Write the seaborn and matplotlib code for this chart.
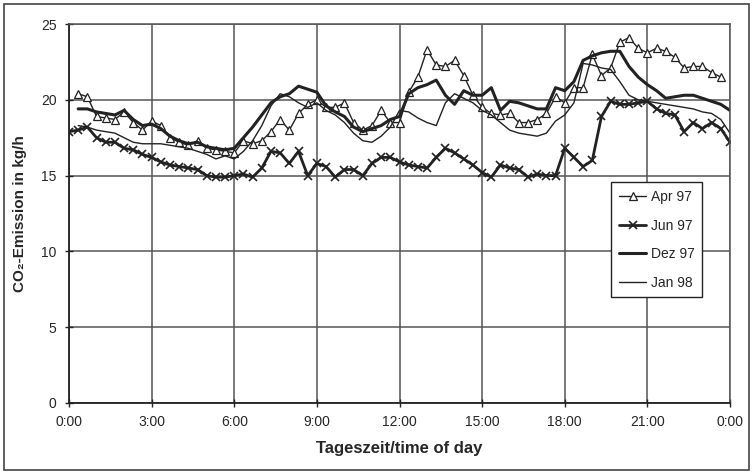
import numpy as np
import pandas as pd
import matplotlib
matplotlib.use("Agg")
import matplotlib.pyplot as plt
import seaborn as sns
from matplotlib.patches import Rectangle

# ---- data (20-minute steps, hours of day) ----
apr_start, jun_start, dez_start, jan_start = 1, 0, 1, 1  # index of first 20-min slot

apr97 = [20.4, 20.2, 18.9, 18.8, 18.7, 19.2, 18.5, 18.0, 18.6, 18.3, 17.5, 17.2,
         17.0, 17.3, 16.8, 16.7, 16.6, 16.5, 17.3, 17.1, 17.3, 17.9, 18.7, 18.0,
         19.1, 19.7, 20.0, 19.5, 19.5, 19.8, 18.5, 18.0, 18.3, 19.3, 18.5, 18.5,
         20.5, 21.5, 23.3, 22.3, 22.2, 22.6, 21.6, 20.3, 19.5, 19.1, 19.0, 19.1,
         18.5, 18.5, 18.7, 19.1, 20.2, 19.8, 20.8, 20.8, 23.0, 21.6, 22.1, 23.8,
         24.1, 23.4, 23.1, 23.4, 23.2, 22.8, 22.1, 22.2, 22.2, 21.8, 21.5]

jun97 = [17.9, 18.0, 18.2, 17.5, 17.2, 17.2, 16.8, 16.7, 16.4, 16.2, 15.9, 15.7,
         15.6, 15.5, 15.4, 15.0, 14.9, 14.9, 15.0, 15.1, 14.9, 15.5, 16.6, 16.5,
         15.8, 16.6, 15.0, 15.8, 15.6, 14.9, 15.4, 15.4, 15.0, 15.8, 16.2, 16.2,
         15.9, 15.7, 15.6, 15.5, 16.2, 16.8, 16.5, 16.1, 15.7, 15.2, 14.9, 15.7,
         15.5, 15.4, 14.9, 15.1, 15.0, 15.0, 16.8, 16.2, 15.6, 16.0, 18.9, 19.9,
         19.7, 19.7, 19.8, 19.9, 19.4, 19.1, 19.0, 17.9, 18.5, 18.1, 18.5, 18.1,
         17.2]

dez97 = [19.4, 19.4, 19.2, 19.1, 19.0, 19.3, 18.7, 18.3, 18.4, 18.1, 17.6, 17.3,
         17.1, 17.2, 16.9, 16.8, 16.7, 16.8, 17.5, 18.2, 19.0, 19.8, 20.2, 20.4,
         20.9, 20.7, 20.5, 19.6, 19.2, 18.9, 18.2, 17.9, 18.1, 18.3, 18.7, 18.9,
         20.4, 20.8, 21.0, 21.3, 20.3, 19.7, 20.6, 20.3, 20.3, 20.8, 19.3, 19.9,
         19.8, 19.6, 19.4, 19.4, 20.8, 20.6, 21.2, 22.6, 22.9, 23.1, 23.2, 23.2,
         22.2, 21.5, 21.0, 20.6, 20.1, 20.2, 20.3, 20.3, 20.1, 19.9, 19.7, 19.3]

jan98 = [18.3, 18.2, 18.0, 17.9, 17.8, 17.5, 17.2, 17.1, 17.1, 17.1, 17.0, 16.9,
         16.8, 16.6, 16.4, 16.1, 16.3, 16.1, 16.6, 17.3, 18.3, 19.6, 20.4, 20.2,
         19.8, 19.5, 19.8, 19.3, 19.0, 18.5, 17.8, 17.3, 17.2, 17.6, 18.2, 19.3,
         19.2, 18.8, 18.5, 18.3, 19.8, 20.4, 20.1, 19.8, 19.3, 19.0, 18.5, 18.0,
         17.8, 17.7, 17.6, 17.8, 18.6, 19.0, 19.8, 22.4, 22.3, 22.1, 22.0, 21.2,
         20.3, 20.0, 19.9, 19.8, 19.7, 19.6, 19.5, 19.4, 19.2, 19.1, 18.7, 17.8]

series_names = ["Apr 97", "Jun 97", "Dez 97", "Jan 98"]
x_ticks = [0, 3, 6, 9, 12, 15, 18, 21, 24]
x_ticklabels = ["0:00", "3:00", "6:00", "9:00", "12:00", "15:00", "18:00", "21:00", "0:00"]
y_ticks = [0, 5, 10, 15, 20, 25]


def frame(name, vals, start):
    hours = (np.arange(len(vals)) + start) / 3.0
    return pd.DataFrame({"hour": hours, "value": vals, "series": name})


df = pd.concat([frame("Apr 97", apr97, apr_start),
                frame("Jun 97", jun97, jun_start),
                frame("Dez 97", dez97, dez_start),
                frame("Jan 98", jan98, jan_start)], ignore_index=True)

sns.set_style("white")
plt.rcParams["font.family"] = ["Liberation Sans", "DejaVu Sans"]

fig = plt.figure(figsize=(7.54, 4.76), dpi=100)
ax = fig.add_axes([69 / 754, 73 / 476, 661 / 754, 379 / 476])

ink = "#222222"
grid_c = "#555555"

styles = {
    "Apr 97": dict(lw=1.0, marker="^", ms=5.5, mfc="white", mec=ink, mew=0.9),
    "Jun 97": dict(lw=2.0, marker="x", ms=6, mec=ink, mew=1.2),
    "Dez 97": dict(lw=2.2, marker=None),
    "Jan 98": dict(lw=1.0, marker=None),
}

for name in series_names:
    sub = df[df["series"] == name]
    st = styles[name]
    sns.lineplot(data=sub, x="hour", y="value", ax=ax, color=ink, label=name,
                 linewidth=st["lw"], marker=st["marker"],
                 markersize=st.get("ms", 0), markerfacecolor=st.get("mfc", ink),
                 markeredgecolor=st.get("mec", ink),
                 markeredgewidth=st.get("mew", 0), estimator=None, sort=False)

ax.set_xlim(0, 24)
ax.set_ylim(0, 25)
ax.set_xticks(x_ticks)
ax.set_xticklabels(x_ticklabels, fontsize=10)
ax.set_yticks(y_ticks)
ax.set_yticklabels([str(v) for v in y_ticks], fontsize=10)
ax.tick_params(axis="both", direction="inout", length=6, width=1.0, color=ink,
               bottom=True, left=True, pad=6)
ax.grid(True, color=grid_c, linewidth=1.1)
ax.set_axisbelow(True)
for side in ["top", "right"]:
    ax.spines[side].set_color(grid_c)
    ax.spines[side].set_linewidth(1.1)
for side in ["left", "bottom"]:
    ax.spines[side].set_color(ink)
    ax.spines[side].set_linewidth(1.3)

ax.set_xlabel("Tageszeit/time of day", fontsize=12, fontweight="bold", labelpad=8)
ax.set_ylabel("CO₂-Emission in kg/h", fontsize=11, fontweight="bold", labelpad=10)

leg = ax.legend(loc="upper left", bbox_to_anchor=(0.82, 0.582), fontsize=10,
                frameon=True, fancybox=False, shadow=False, framealpha=1,
                edgecolor=ink, handlelength=2.0, handletextpad=0.3,
                borderpad=0.55, labelspacing=1.05, borderaxespad=0)
leg.get_frame().set_linewidth(1.0)

fig.patches.append(Rectangle((0.005, 0.012), 0.989, 0.98, transform=fig.transFigure,
                             fill=False, edgecolor="#444444", linewidth=1.2))

fig.savefig("out.png", dpi=100, facecolor="white")
